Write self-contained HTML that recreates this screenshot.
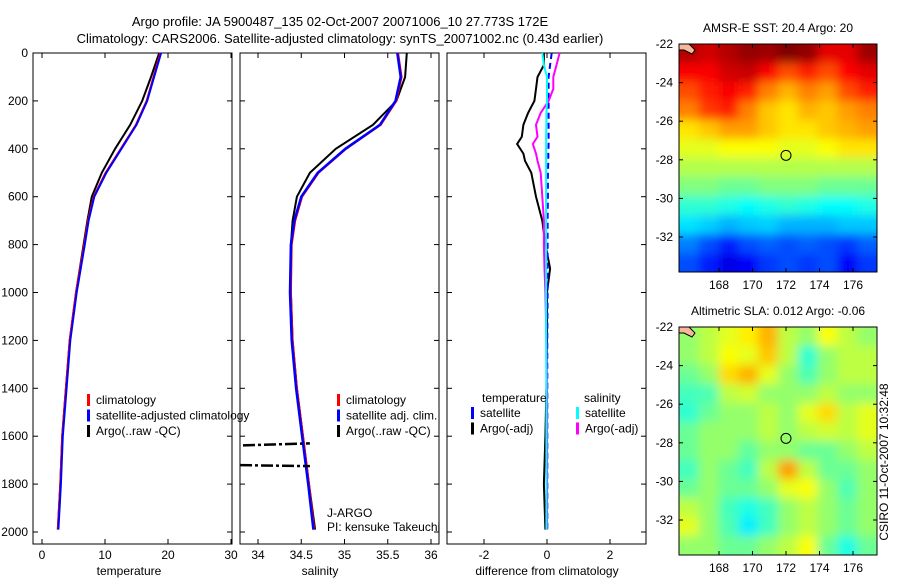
<!DOCTYPE html>
<html><head><meta charset="utf-8"><style>
body{margin:0;background:#fff;}
svg text{font-family:"Liberation Sans",sans-serif;font-size:12px;fill:#000;}
</style></head><body>
<svg id="c" width="900" height="580" xmlns="http://www.w3.org/2000/svg">
<defs>
<filter id="blur" x="-5%" y="-5%" width="110%" height="110%"><feGaussianBlur stdDeviation="5"/></filter>
<clipPath id="clip1"><rect x="679" y="44" width="198" height="228"/></clipPath>
<clipPath id="clip2"><rect x="679" y="327" width="198" height="228"/></clipPath>
</defs>
<text x="340" y="26" text-anchor="middle" style="font-size:13px">Argo profile: JA 5900487_135 02-Oct-2007 20071006_10 27.773S 172E</text>
<text x="340" y="43" text-anchor="middle" style="font-size:13px">Climatology: CARS2006. Satellite-adjusted climatology: synTS_20071002.nc (0.43d earlier)</text>
<text x="888" y="462" text-anchor="middle" transform="rotate(-90 888 462)">CSIRO 11-Oct-2007 10:32:48</text>
</svg>
<script>
// ---------- data ----------
const depths=[0,100,200,300,400,500,600,700,800,1000,1200,1400,1600,1800,1990];
const tempClim=[18.8,17.7,16.6,14.9,12.5,10.1,8.2,7.3,6.7,5.4,4.4,3.8,3.2,2.9,2.5];
const tempArgo=[18.6,17.3,15.9,14.0,11.6,9.5,7.9,7.2,6.6,5.4,4.4,3.8,3.2,2.9,2.5];
const salClim=[35.62,35.66,35.6,35.42,35.02,34.7,34.51,34.43,34.39,34.38,34.4,34.45,34.52,34.59,34.65];
const salArgo=[35.72,35.7,35.6,35.33,34.9,34.6,34.45,34.4,34.38,34.38,34.4,34.45,34.52,34.59,34.66];
const diffDepths=[0,50,100,150,200,250,300,350,380,420,450,500,600,700,800,900,1000,1200,1400,1600,1800,1990];
const diffTempArgo=[-0.1,-0.1,-0.3,-0.35,-0.4,-0.6,-0.75,-0.8,-0.95,-0.75,-0.7,-0.5,-0.35,-0.15,-0.05,0.1,0.0,0.0,-0.02,-0.05,-0.1,-0.05];
const diffSalArgo=[0.4,0.3,0.2,0.2,0.05,-0.2,-0.35,-0.3,-0.45,-0.35,-0.3,-0.2,-0.15,-0.1,-0.1,-0.08,-0.05,-0.02,0,0,0,0];
const diffTempSat=[0.15,0.1,0.05,0.05,0.05,0.05,0.05,0.05,0.05,0.04,0.04,0.03,0.03,0.02,0.02,0.02,0.02,0.01,0.01,0.01,0.01,0.01];
const diffSalSat=[-0.15,-0.1,0,0,0,-0.02,-0.02,-0.03,-0.03,-0.03,-0.03,-0.03,-0.03,-0.03,-0.03,-0.03,-0.03,-0.03,-0.02,-0.02,-0.02,-0.02];
const spikeDepths=[1630,1725];
const depthTicks=[0,200,400,600,800,1000,1200,1400,1600,1800,2000];
const tempTicks=[0,10,20,30];
const salTicks=[34,34.5,35,35.5,36];
const diffTicks=[-2,0,2];
const lonTicks=[168,170,172,174,176];
const latTicks=[-22,-24,-26,-28,-30,-32];
const sstGrid=[
[.95,.92,.95,.98,.97,1,.98,.9,.9,.97],
[.88,.88,.92,.93,.88,.8,.85,.8,.87,.9],
[.8,.85,.88,.85,.75,.7,.75,.72,.8,.85],
[.75,.82,.85,.75,.68,.65,.7,.68,.72,.75],
[.65,.68,.72,.72,.68,.65,.65,.68,.7,.72],
[.6,.6,.62,.62,.62,.6,.6,.62,.65,.65],
[.55,.55,.55,.55,.55,.55,.55,.55,.55,.55],
[.5,.5,.48,.48,.5,.5,.5,.48,.48,.48],
[.42,.42,.4,.38,.4,.42,.4,.38,.38,.4],
[.35,.33,.3,.32,.33,.3,.3,.3,.32,.32],
[.25,.2,.15,.2,.22,.2,.22,.2,.18,.22],
[.2,.15,.1,.12,.18,.2,.18,.2,.12,.18]];
const slaGrid=[
[.52,.56,.6,.64,.7,.56,.52,.62,.56,.52],
[.52,.56,.62,.6,.68,.56,.42,.52,.56,.56],
[.48,.52,.66,.7,.6,.52,.45,.52,.56,.56],
[.44,.45,.56,.58,.52,.52,.52,.56,.52,.52],
[.42,.48,.52,.52,.56,.52,.6,.66,.56,.6],
[.48,.52,.52,.52,.56,.52,.56,.58,.56,.6],
[.48,.52,.52,.47,.52,.52,.48,.48,.52,.56],
[.44,.52,.48,.44,.56,.72,.56,.48,.48,.52],
[.48,.52,.48,.48,.52,.6,.62,.52,.45,.52],
[.56,.52,.44,.4,.44,.52,.56,.52,.48,.52],
[.6,.52,.45,.36,.44,.52,.56,.52,.48,.52],
[.52,.52,.48,.48,.52,.56,.62,.48,.4,.48]];
const mapTitles=["AMSR-E SST: 20.4  Argo: 20","Altimetric SLA: 0.012  Argo: -0.06"];
const floatLon=172, floatLat=-27.77;

// ---------- helpers ----------
const svg=document.getElementById('c');
const NS='http://www.w3.org/2000/svg';
function mk(tag,attrs,parent){const e=document.createElementNS(NS,tag);for(const k in attrs)e.setAttribute(k,attrs[k]);(parent||svg).appendChild(e);return e;}
function txt(x,y,s,anchor,parent){const t=mk('text',{x:x,y:y,'text-anchor':anchor||'start'},parent);t.textContent=s;return t;}
const yD=d=>53+d*0.2395;
const xT=t=>42+t*6.3;
const xS=s=>258+(s-34)*86.5;
const xDf=v=>547+v*31.5;
const PT=53,PB=544;

function panel(x0,x1,name,ticks,xf,label,labelX){
  const g=mk('g',{});
  
  
  mk('rect',{x:x0,y:PT,width:x1-x0,height:PB-PT,fill:'none',stroke:'#000','stroke-width':1},g);
  ticks.forEach(t=>{const x=xf(t);
    mk('line',{x1:x,y1:PB,x2:x,y2:PB-5,stroke:'#000'},g);
    mk('line',{x1:x,y1:PT,x2:x,y2:PT+5,stroke:'#000'},g);
    const l=txt(x,559,String(t),'middle',g);
    
    });
  depthTicks.forEach(d=>{const y=yD(d);
    mk('line',{x1:x0,y1:y,x2:x0+5,y2:y,stroke:'#000'},g);
    mk('line',{x1:x1,y1:y,x2:x1-5,y2:y,stroke:'#000'},g);});
  const xl=txt(labelX,575,label,'middle',g);
  
  
  return g;
}
function line(xs,ds,xf,color,w,name,extra){
  const pts=xs.map((v,i)=>xf(v).toFixed(1)+','+yD(ds[i]).toFixed(1)).join(' ');
  const p=mk('polyline',Object.assign({points:pts,fill:'none',stroke:color,'stroke-width':w},extra||{}));
  
  
  return p;
}
function legend(items,x,y){
  items.forEach((it,i)=>{
    const yy=y+i*15.5;
    const r=mk('rect',{x:x,y:yy-10,width:3,height:12,fill:it[1]});
    
    
    const t=txt(x+9,yy,it[0]);
    
    
  });
}

depthTicks.forEach(d=>{const t=txt(28,yD(d)+4,String(d),'end');
  
  });

// panel 1 temperature
panel(33,232,'temperature-panel',tempTicks,xT,'temperature',129);
line(tempArgo,depths,xT,'#000',2,'temp-argo-line');
line(tempClim,depths,xT,'#f00',2,'temp-clim-line');
line(tempClim.map(v=>v+0.1),depths,xT,'#00f',2,'temp-satellite-line');
legend([['climatology','#f00'],['satellite-adjusted climatology','#00f'],['Argo(..raw -QC)','#000']],87,404);

// panel 2 salinity
panel(240,439,'salinity-panel',salTicks,xS,'salinity',320);
line(salArgo,depths,xS,'#000',2,'sal-argo-line');
line(salClim,depths,xS,'#f00',2,'sal-clim-line');
line(salClim.map(v=>v-0.01),depths,xS,'#00f',2.5,'sal-satellite-line');
spikeDepths.forEach((d,i)=>{
  const l=mk('line',{x1:i?240:243,y1:yD(d)+(i?-1:2),x2:xS(34.6),y2:yD(d),stroke:'#000','stroke-width':2.5,'stroke-dasharray':'12 3 3 3'});
  
  });
legend([['climatology','#f00'],['satellite adj. clim.','#00f'],['Argo(..raw -QC)','#000']],337,404);
txt(327,517,'J-ARGO');
txt(327,531,'PI: kensuke Takeuchi');

// panel 3 difference
panel(447,646,'difference-panel',diffTicks,xDf,'difference from climatology',547);
line(diffTempArgo,diffDepths,xDf,'#000',2,'diff-temp-argo-line');
line(diffTempSat,diffDepths,xDf,'#00f',2,'diff-temp-sat-line',{'stroke-dasharray':'6 4'});
line(diffSalArgo,diffDepths,xDf,'#f0f',2,'diff-sal-argo-line');
line(diffSalSat,diffDepths,xDf,'#0ff',2,'diff-sal-sat-line');
txt(482,402,'temperature');txt(584,402,'salinity');
legend([['satellite','#00f'],['Argo(-adj)','#000']],471,417);
legend([['satellite','#0ff'],['Argo(-adj)','#f0f']],576,417);

// ---------- maps ----------
function jet(v){v=Math.max(0,Math.min(1,v));
  const r=Math.max(0,Math.min(1,1.5-Math.abs(4*v-3)));
  const g=Math.max(0,Math.min(1,1.5-Math.abs(4*v-2)));
  const b=Math.max(0,Math.min(1,1.5-Math.abs(4*v-1)));
  return `rgb(${Math.round(r*255)},${Math.round(g*255)},${Math.round(b*255)})`;}
function map(top,grid,title,name,clip){
  const L=679,R=877,T=top,B=top+228;
  const xL=lon=>719+(lon-168)*16.75;
  const yL=lat=>T+(-22-lat)*19.3;
  const g=mk('g',{});
  
  
  const cg=mk('g',{'clip-path':`url(#${clip})`},g);
  const bg=mk('g',{filter:'url(#blur)'},cg);
  const nr=grid.length,nc=grid[0].length,cw=(R-L)/nc,ch=(B-T)/nr;
  grid.forEach((row,i)=>row.forEach((v,j)=>{
    const x=L+j*cw-(j==0?12:0), y=T+i*ch-(i==0?12:0);
    const w=cw+0.5+(j==0?12:0)+(j==nc-1?12:0), h=ch+0.5+(i==0?12:0)+(i==nr-1?12:0);
    const c=mk('rect',{x:x,y:y,width:w,height:h,fill:jet(v)},bg);
    
    }));
  mk('path',{d:`M${L},${T} l10,0 l6,6 l-3,4 l-8,-4 l-5,0z`,fill:'#f5b89a',stroke:'#000','stroke-width':1},g);
  mk('rect',{x:L,y:T,width:R-L,height:B-T,fill:'none',stroke:'#000'},g);
  lonTicks.forEach(l=>{const x=xL(l);
    mk('line',{x1:x,y1:B,x2:x,y2:B-4,stroke:'#000'},g);
    mk('line',{x1:x,y1:T,x2:x,y2:T+4,stroke:'#000'},g);
    const t=txt(x,B+17,String(l),'middle',g);
    
    });
  latTicks.forEach(l=>{const y=yL(l);
    mk('line',{x1:L,y1:y,x2:L+4,y2:y,stroke:'#000'},g);
    mk('line',{x1:R,y1:y,x2:R-4,y2:y,stroke:'#000'},g);
    const t=txt(L-6,y+4,String(l),'end',g);
    
    });
  const c=mk('circle',{cx:xL(floatLon),cy:yL(floatLat),r:5,fill:'none',stroke:'#000','stroke-width':1},g);
  
  
  const t=txt(778,T-12,title,'middle',g);
  
  
}
map(44,sstGrid,mapTitles[0],'sst-map','clip1');
map(327,slaGrid,mapTitles[1],'sla-map','clip2');
</script>
</body></html>
